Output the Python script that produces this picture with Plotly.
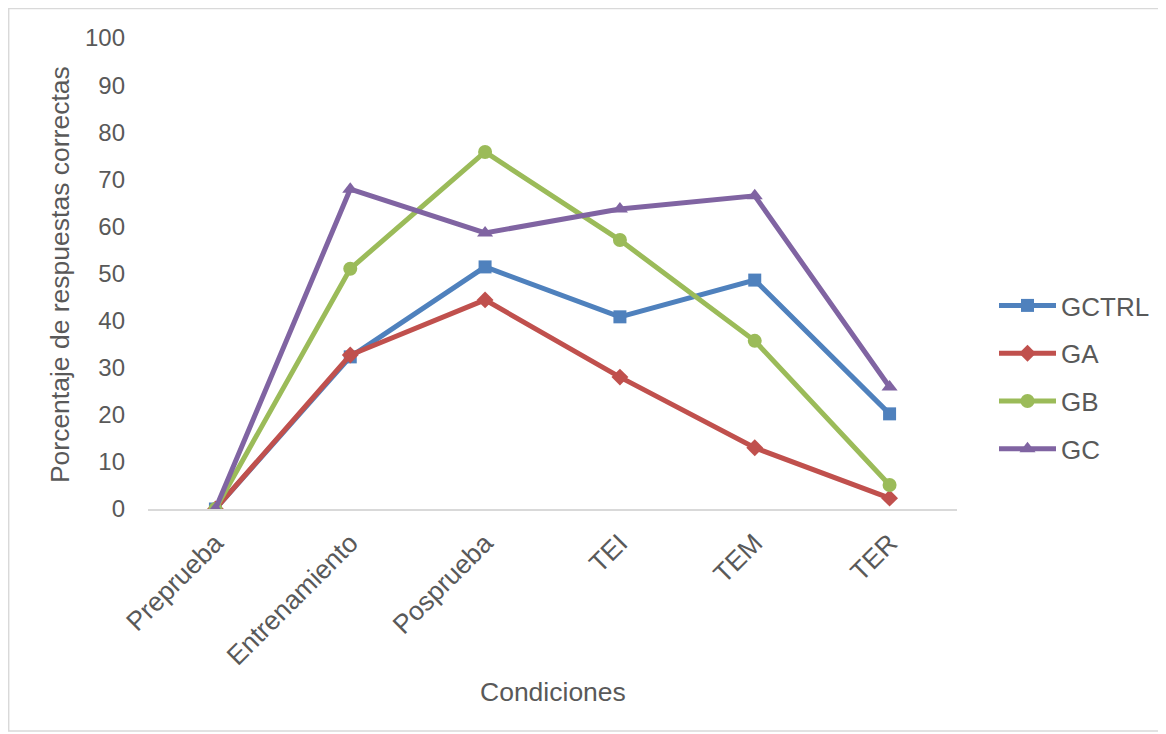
import plotly.graph_objects as go

categories = ["Preprueba", "Entrenamiento", "Posprueba", "TEI", "TEM", "TER"]
gctrl = [0, 32.3, 51.4, 40.8, 48.6, 20.2]
ga = [0, 32.7, 44.4, 28.0, 13.0, 2.3]
gb = [0, 51.0, 75.8, 57.1, 35.7, 5.1]
gc = [0, 67.9, 58.6, 63.7, 66.5, 25.9]
y_ticks = list(range(0, 101, 10))

series = [
    ("GCTRL", gctrl, "#4F81BD", "square", 13),
    ("GA", ga, "#C0504D", "diamond", 13),
    ("GB", gb, "#9BBB59", "circle", 14),
    ("GC", gc, "#8064A2", "triangle-up", 14),
]

FONT = "Liberation Sans, Arial, sans-serif"
TXT = "#595959"

fig = go.Figure()
for name, vals, color, sym, sz in series:
    fig.add_trace(go.Scatter(
        x=categories, y=vals, name=name, mode="lines+markers",
        line=dict(color=color, width=5),
        marker=dict(symbol=sym, size=sz, color=color),
        legendgroup=name,
    ))

# figure is placed at (8, 8) in the page (body margin)
W, H = 1158, 726
L, T = 140, 30
PW, PH = 810, 471
R = W - L - PW
B = H - T - PH

def px_x(x):
    return (x - L) / PW

def px_y(y):
    return (T + PH - y) / PH

fig.update_layout(
    width=W, height=H,
    margin=dict(l=L, r=R, t=T, b=B, pad=0),
    paper_bgcolor="white", plot_bgcolor="white",
    font=dict(family=FONT, size=24, color=TXT),
    showlegend=True,
    legend=dict(
        x=px_x(986), y=px_y(274), xanchor="left", yanchor="top",
        font=dict(size=26, color=TXT), tracegroupgap=11, itemwidth=57,
        bgcolor="rgba(0,0,0,0)",
    ),
    xaxis=dict(
        type="category", range=[-0.5, 5.5], showgrid=False, showline=True,
        linecolor="#D9D9D9", linewidth=2, zeroline=False, ticks="",
        tickangle=-45, tickfont=dict(size=26.5, color=TXT),
        ticklabelstandoff=6,
    ),
    yaxis=dict(
        range=[0, 100], tickvals=y_ticks, showgrid=False, showline=False,
        zeroline=False, ticks="", tickfont=dict(size=24, color=TXT),
        ticklabelstandoff=22,
    ),
    shapes=[dict(
        type="rect", xref="paper", yref="paper",
        x0=px_x(0.5), x1=px_x(1154),
        y0=px_y(723), y1=px_y(0.5),
        line=dict(color="#D9D9D9", width=1.5), fillcolor="rgba(0,0,0,0)",
        layer="below",
    )],
    annotations=[
        dict(text="Condiciones", xref="paper", yref="paper",
             x=px_x(545), y=px_y(684), showarrow=False,
             font=dict(size=26.5, color=TXT), xanchor="center", yanchor="middle"),
        dict(text="Porcentaje de respuestas correctas", xref="paper", yref="paper",
             x=px_x(52), y=px_y(267), showarrow=False, textangle=-90,
             font=dict(size=26.5, color=TXT), xanchor="center", yanchor="middle"),
    ],
)

fig.write_html("out.html")
